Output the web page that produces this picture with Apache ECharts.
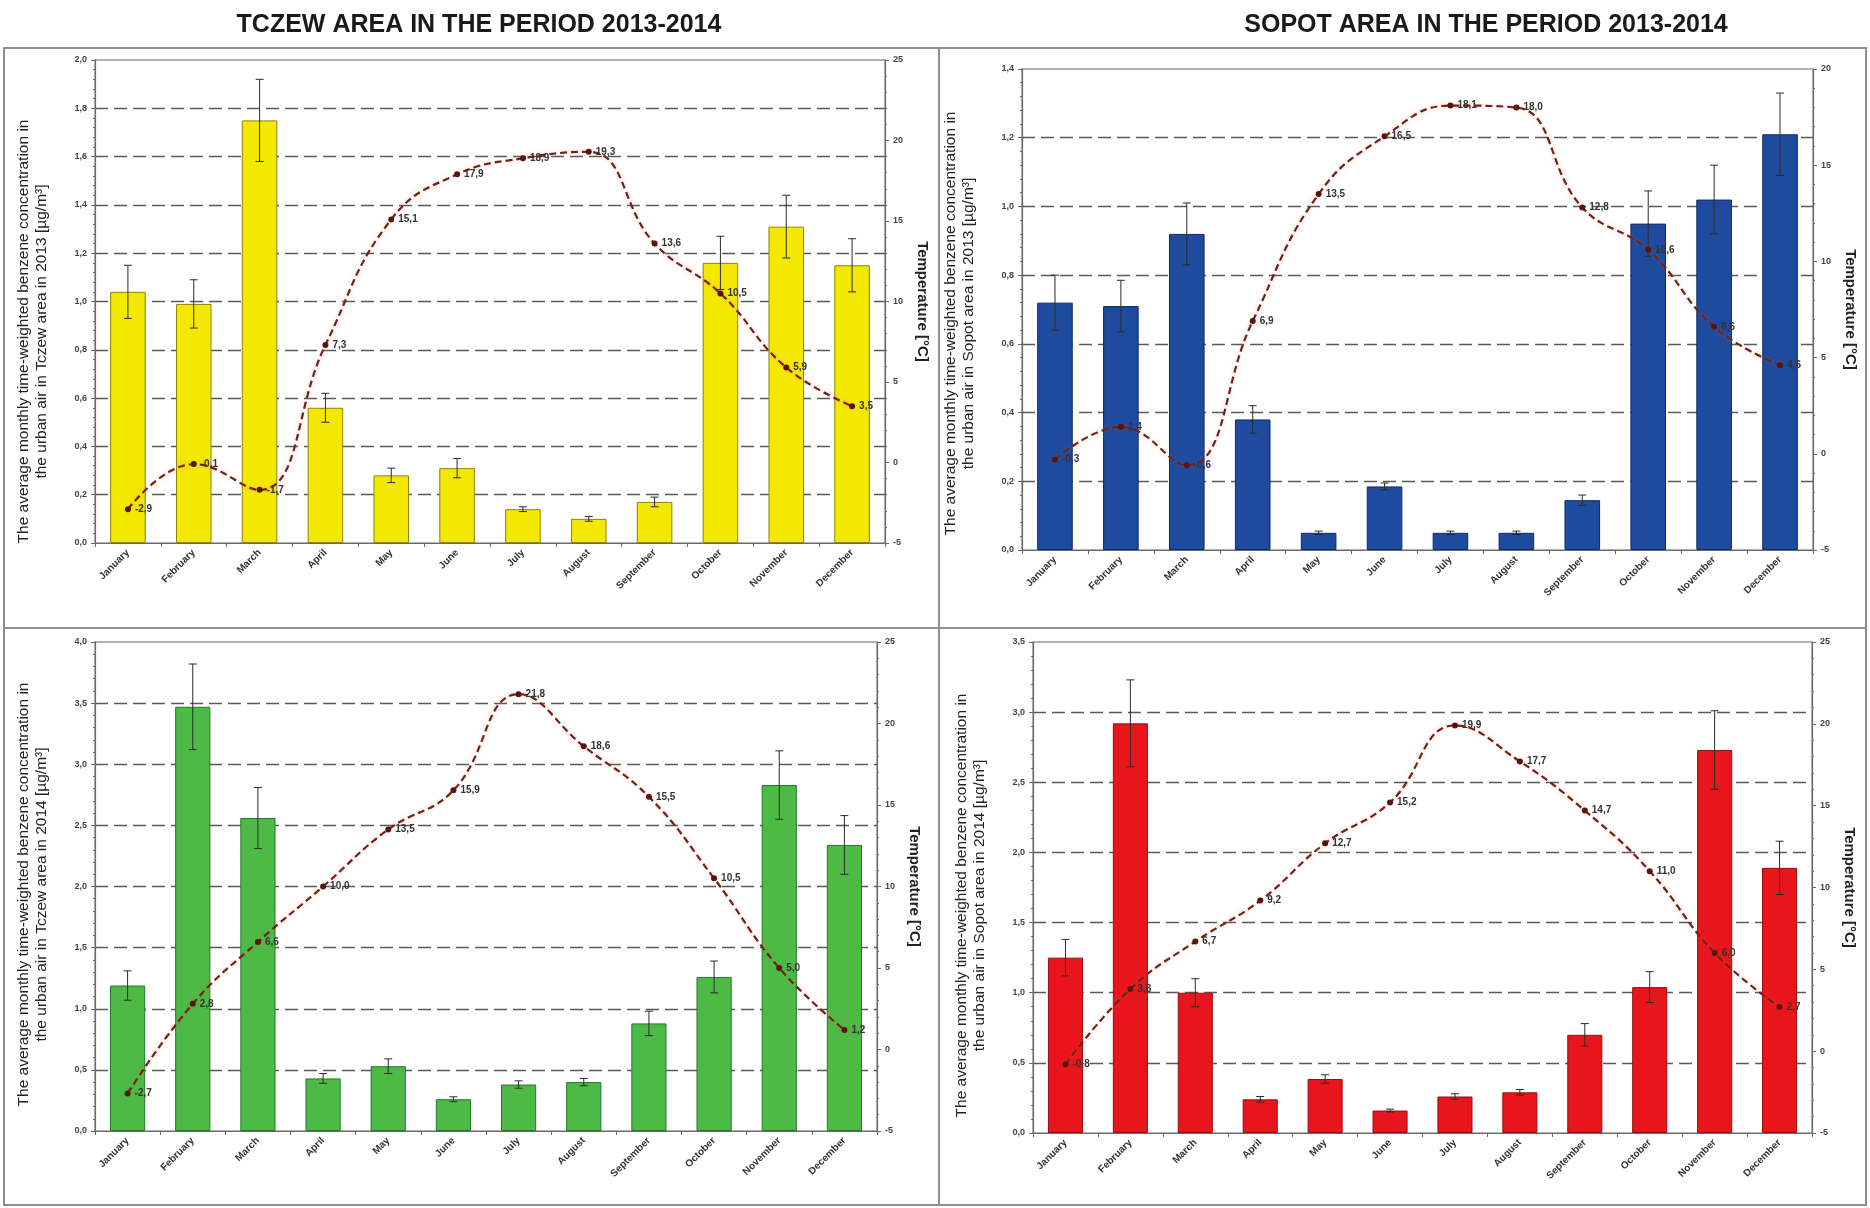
<!DOCTYPE html>
<html>
<head>
<meta charset="utf-8">
<title>Benzene concentration and temperature, Tczew and Sopot 2013-2014</title>
<script src="https://cdn.jsdelivr.net/npm/echarts@6/dist/echarts.min.js"></script>
<style>
  html, body { margin: 0; padding: 0; background: #fff; }
  #chart { width: 1870px; height: 1208px; }
</style>
</head>
<body>
<div id="chart"></div>
<script>
// Months on the category axis
const months = ['January', 'February', 'March', 'April', 'May', 'June', 'July',
  'August', 'September', 'October', 'November', 'December'];

// Tczew 2013: benzene [µg/m³], its uncertainty, mean temperature [°C]
const tczew2013 = [1.04, 0.99, 1.75, 0.56, 0.28, 0.31, 0.14, 0.10, 0.17, 1.16, 1.31, 1.15];
const tczew2013Err = [0.11, 0.10, 0.17, 0.06, 0.03, 0.04, 0.01, 0.01, 0.02, 0.11, 0.13, 0.11];
const tczew2013Temp = [-2.9, -0.1, -1.7, 7.3, 15.1, 17.9, 18.9, 19.3, 13.6, 10.5, 5.9, 3.5];

// Sopot 2013
const sopot2013 = [0.72, 0.71, 0.92, 0.38, 0.05, 0.185, 0.05, 0.05, 0.145, 0.95, 1.02, 1.21];
const sopot2013Err = [0.08, 0.075, 0.09, 0.04, 0.005, 0.01, 0.005, 0.005, 0.015, 0.095, 0.10, 0.12];
const sopot2013Temp = [-0.3, 1.4, -0.6, 6.9, 13.5, 16.5, 18.1, 18.0, 12.8, 10.6, 6.6, 4.6];

// Tczew 2014
const tczew2014 = [1.19, 3.47, 2.56, 0.43, 0.53, 0.26, 0.38, 0.40, 0.88, 1.26, 2.83, 2.34];
const tczew2014Err = [0.12, 0.35, 0.25, 0.04, 0.06, 0.02, 0.03, 0.03, 0.10, 0.13, 0.28, 0.24];
const tczew2014Temp = [-2.7, 2.8, 6.6, 10.0, 13.5, 15.9, 21.8, 18.6, 15.5, 10.5, 5.0, 1.2];

// Sopot 2014
const sopot2014 = [1.25, 2.92, 1.00, 0.24, 0.385, 0.16, 0.26, 0.29, 0.70, 1.04, 2.73, 1.89];
const sopot2014Err = [0.13, 0.31, 0.10, 0.02, 0.03, 0.01, 0.02, 0.02, 0.08, 0.11, 0.28, 0.19];
const sopot2014Temp = [-0.8, 3.8, 6.7, 9.2, 12.7, 15.2, 19.9, 17.7, 14.7, 11.0, 6.0, 2.7];

// Headings above the two columns
const headings = ['TCZEW AREA IN THE PERIOD 2013-2014', 'SOPOT AREA IN THE PERIOD 2013-2014'];
const tempAxisName = 'Temperature [°C]';
const concNameLine1 = 'The average monthly time-weighted benzene concentration in';

const FONT = '"Liberation Sans", Arial, sans-serif';
const comma1 = v => v.toFixed(1).replace('.', ',');

// One entry per panel: plot box, scales, colours; nameDrop moves the left axis name down
const panels = [
  { box: { left: 95, top: 60, width: 790, height: 483 }, bars: tczew2013, err: tczew2013Err, temp: tczew2013Temp,
    cMax: 2.0, cStep: 0.2, tMax: 25, fill: '#f4e800', edge: '#8c8400', nameDrop: 30,
    name: concNameLine1 + '\nthe urban air in Tczew area in 2013 [µg/m³]' },
  { box: { left: 1022, top: 69, width: 791, height: 481 }, bars: sopot2013, err: sopot2013Err, temp: sopot2013Temp,
    cMax: 1.4, cStep: 0.2, tMax: 20, fill: '#1e4b9e', edge: '#0f2a66', nameDrop: 14,
    name: concNameLine1 + '\nthe urban air in Sopot area in 2013 [µg/m³]' },
  { box: { left: 95, top: 642, width: 782, height: 489 }, bars: tczew2014, err: tczew2014Err, temp: tczew2014Temp,
    cMax: 4.0, cStep: 0.5, tMax: 25, fill: '#4cba45', edge: '#23792a', nameDrop: 8,
    name: concNameLine1 + '\nthe urban air in Tczew area in 2014 [µg/m³]' },
  { box: { left: 1033, top: 642, width: 779, height: 491 }, bars: sopot2014, err: sopot2014Err, temp: sopot2014Temp,
    cMax: 3.5, cStep: 0.5, tMax: 25, fill: '#e8161c', edge: '#9a0b0e', nameDrop: 18,
    name: concNameLine1 + '\nthe urban air in Sopot area in 2014 [µg/m³]' }
];

const axisGray = '#6a6a6a';
const grid = [], xAxis = [], yAxis = [], series = [];

// Vertical error bar with caps, drawn in data coordinates
function errorBarItem(params, api) {
  const x = api.value(0), y = api.value(1), e = api.value(2);
  const hi = api.coord([x, y + e]);
  const lo = api.coord([x, y - e]);
  const cap = 4;
  const style = { stroke: '#2b2b2b', lineWidth: 1 };
  return {
    type: 'group',
    children: [
      { type: 'line', shape: { x1: hi[0], y1: hi[1], x2: lo[0], y2: lo[1] }, style },
      { type: 'line', shape: { x1: hi[0] - cap, y1: hi[1], x2: hi[0] + cap, y2: hi[1] }, style },
      { type: 'line', shape: { x1: lo[0] - cap, y1: lo[1], x2: lo[0] + cap, y2: lo[1] }, style }
    ]
  };
}

panels.forEach((p, k) => {
  grid.push(Object.assign({ show: true, borderColor: '#9a9a9a', borderWidth: 1.5, containLabel: false }, p.box));

  xAxis.push({
    type: 'category', gridIndex: k, data: months, boundaryGap: true,
    axisLine: { lineStyle: { color: axisGray, width: 1.2 } },
    axisTick: { show: true, length: 4, lineStyle: { color: axisGray } },
    axisLabel: { rotate: 45, interval: 0, fontSize: 10, fontWeight: 'bold', color: '#333', fontFamily: FONT, margin: 8 },
    splitLine: { show: false }
  });

  yAxis.push({
    type: 'value', gridIndex: k, position: 'left', min: 0, max: p.cMax, interval: p.cStep,
    axisLine: { show: true, lineStyle: { color: axisGray, width: 1.2 } },
    axisTick: { show: true, length: 4, lineStyle: { color: axisGray } },
    minorTick: { show: true, splitNumber: 5, length: 2, lineStyle: { color: axisGray } },
    axisLabel: { formatter: comma1, fontSize: 9, fontWeight: 'bold', color: '#444', fontFamily: FONT, margin: 8 },
    splitLine: { show: true, showMinLine: false, showMaxLine: false,
      lineStyle: { type: [13, 6], color: '#5a5a5a', width: 1.3 } },
    name: p.name, nameLocation: 'middle', nameGap: 44,
    nameTextStyle: { fontSize: 15.5, lineHeight: 18, color: '#222', fontFamily: FONT,
      padding: [0, 2 * p.nameDrop, 0, 0] }
  });

  yAxis.push({
    type: 'value', gridIndex: k, position: 'right', min: -5, max: p.tMax, interval: 5,
    axisLine: { show: true, lineStyle: { color: axisGray, width: 1.2 } },
    axisTick: { show: true, length: 4, lineStyle: { color: axisGray } },
    minorTick: { show: true, splitNumber: 5, length: 2, lineStyle: { color: axisGray } },
    axisLabel: { fontSize: 9, fontWeight: 'bold', color: '#444', fontFamily: FONT, margin: 8 },
    splitLine: { show: false },
    name: tempAxisName, nameLocation: 'middle', nameRotate: -90, nameGap: 30,
    nameTextStyle: { fontSize: 15, fontWeight: 'bold', color: '#222', fontFamily: FONT }
  });

  series.push({
    type: 'bar', xAxisIndex: k, yAxisIndex: 2 * k, data: p.bars, barWidth: '54%',
    itemStyle: { color: p.fill, borderColor: p.edge, borderWidth: 1 }, z: 2
  });

  series.push({
    type: 'custom', xAxisIndex: k, yAxisIndex: 2 * k, renderItem: errorBarItem,
    data: p.bars.map((v, i) => [i, v, p.err[i]]), z: 3, silent: true
  });

  series.push({
    type: 'line', xAxisIndex: k, yAxisIndex: 2 * k + 1, data: p.temp, smooth: 0.45,
    lineStyle: { type: [7, 4], width: 2.2, color: '#702418',
      shadowColor: 'rgba(255,110,70,0.35)', shadowBlur: 4 },
    symbol: 'circle', symbolSize: 6, itemStyle: { color: '#5a140e' },
    label: { show: true, position: 'right', distance: 4, formatter: q => comma1(q.value),
      fontSize: 10, fontWeight: 'bold', color: '#333', fontFamily: FONT },
    z: 5
  });
});

// Outer frame, column/row dividers and column headings
const frameStyle = { stroke: '#8e8e8e', lineWidth: 2, fill: null };
const headingFont = 'bold 25px ' + FONT;
const graphic = [
  { type: 'rect', shape: { x: 4, y: 48, width: 1862, height: 1157 }, style: frameStyle, silent: true },
  { type: 'line', shape: { x1: 939, y1: 48, x2: 939, y2: 1205 }, style: frameStyle, silent: true },
  { type: 'line', shape: { x1: 4, y1: 628, x2: 1866, y2: 628 }, style: frameStyle, silent: true },
  { type: 'text', x: 479, y: 25, style: { text: headings[0], fill: '#1a1a1a', font: headingFont,
      textAlign: 'center', textVerticalAlign: 'middle' } },
  { type: 'text', x: 1486, y: 25, style: { text: headings[1], fill: '#1a1a1a', font: headingFont,
      textAlign: 'center', textVerticalAlign: 'middle' } }
];

const chart = echarts.init(document.getElementById('chart'), null, { renderer: 'canvas' });
chart.setOption({
  animation: false,
  backgroundColor: '#ffffff',
  textStyle: { fontFamily: FONT },
  grid, xAxis, yAxis, series, graphic
});
</script>
</body>
</html>
